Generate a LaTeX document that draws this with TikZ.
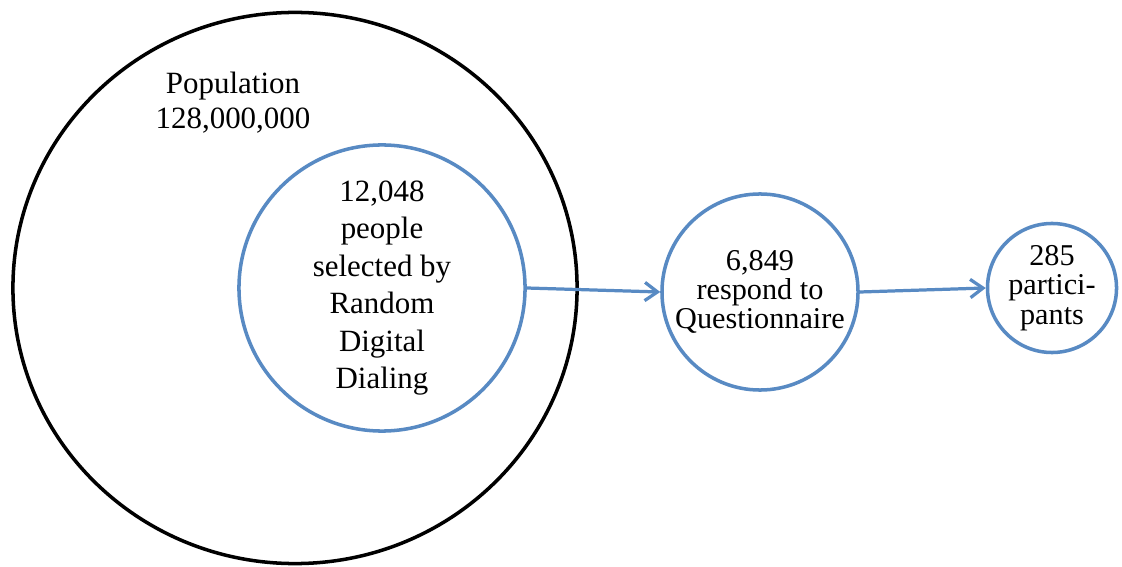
\documentclass[tikz,border=0pt]{standalone}
\usepackage{fontspec}
\setmainfont{Liberation Serif}
\usetikzlibrary{shapes.geometric,arrows.meta}
\definecolor{ppblue}{RGB}{88,138,195}
\begin{document}
\begin{tikzpicture}[x=.025cm,y=.025cm,
		grp/.style={circle,draw=ppblue,line width=2.5pt,inner sep=0pt,align=center,font=\fontsize{21.5}{20.8}\selectfont},
		flow/.style={draw=ppblue,line width=2.3pt,-{Straight Barb[length=9pt,width=13pt]}}]
	\useasboundingbox (0,0) rectangle (1122,566);
	\node[ellipse,draw,line width=2.5pt,minimum width=14.1cm,minimum height=13.775cm] (pop) at (295,278) {};
	\node[align=center,font=\fontsize{22}{25}\selectfont] (poplabel) at (233,463) {Population\\128,000,000};
	\node[grp,minimum size=7.15cm,font=\fontsize{22}{26.6}\selectfont] (sample) at (382,278)
		{12,048\\people\\selected by\\Random\\Digital\\Dialing};
	\node[grp,minimum size=4.9cm] (resp) at (760,274) {6,849\\respond to\\Questionnaire};
	\node[grp,minimum size=3.225cm] (part) at (1052,278) {285\\partici-\\pants};
	\draw[flow] (sample.east) -- (resp.west);
	\draw[flow] (resp.east) -- (part.west);
\end{tikzpicture}
\end{document}
